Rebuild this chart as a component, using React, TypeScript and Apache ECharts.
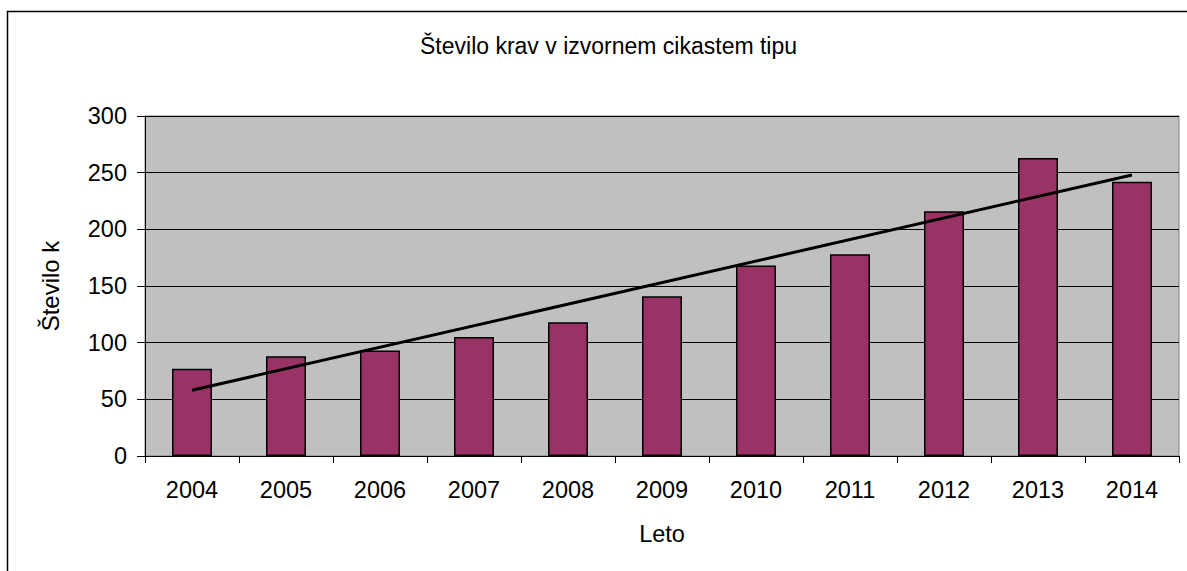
import React, { useEffect, useRef } from "react";
import * as echarts from "echarts";

const years = ["2004", "2005", "2006", "2007", "2008", "2009", "2010", "2011", "2012", "2013", "2014"];
const cows = [77, 88, 93, 105, 118, 141, 168, 178, 216, 263, 242];
// linear trend line endpoints (2004 and 2014)
const trendEnds = [58, 248];
const yTicks = [0, 50, 100, 150, 200, 250, 300];

const titleText = "Število krav v izvornem cikastem tipu";
const yName = "Število k";
const xName = "Leto";

export default function App() {
  const ref = useRef<HTMLDivElement>(null);
  useEffect(() => {
    if (!ref.current) return;
    const chart = echarts.init(ref.current, null, { renderer: "svg" });
    const trend = years.map((_, i) => (i === 0 ? trendEnds[0] : i === years.length - 1 ? trendEnds[1] : null));
    const font = "'Liberation Sans', Arial, sans-serif";
    chart.setOption({
      animation: false,
      backgroundColor: "#ffffff",
      title: {
        text: titleText,
        left: 415,
        top: 29,
        textStyle: { fontFamily: font, fontSize: 23, fontWeight: "normal", color: "#000" },
      },
      graphic: [
        {
          type: "rect",
          shape: { x: 7.5, y: 11.5, width: 1400, height: 800 },
          style: { fill: "none", stroke: "#000", lineWidth: 1.5 },
          silent: true,
        },
      ],
      grid: {
        left: 145,
        top: 116,
        right: 8,
        bottom: 115,
        show: true,
        backgroundColor: "#C0C0C0",
        borderColor: "#808080",
        borderWidth: 1,
      },
      xAxis: {
        type: "category",
        data: years,
        name: xName,
        nameLocation: "middle",
        nameGap: 66,
        nameTextStyle: { fontFamily: font, fontSize: 23.5, color: "#000" },
        axisLine: { lineStyle: { color: "#000", width: 1 } },
        axisTick: { show: true, length: 7, lineStyle: { color: "#000" } },
        axisLabel: { fontFamily: font, fontSize: 23.5, color: "#000", margin: 22 },
      },
      yAxis: {
        type: "value",
        min: yTicks[0],
        max: yTicks[yTicks.length - 1],
        interval: 50,
        name: yName,
        nameLocation: "middle",
        nameGap: 83,
        nameRotate: 90,
        nameTextStyle: { fontFamily: font, fontSize: 24, color: "#000" },
        axisLine: { show: true, lineStyle: { color: "#000", width: 1 } },
        axisTick: { show: true, length: 8, lineStyle: { color: "#000" } },
        axisLabel: { fontFamily: font, fontSize: 23.5, color: "#000", margin: 18 },
        splitLine: { show: true, lineStyle: { color: "#000", width: 1 } },
      },
      series: [
        {
          type: "bar",
          data: cows,
          barWidth: 40,
          itemStyle: { color: "#993366", borderColor: "#000", borderWidth: 1.5 },
        },
        {
          type: "line",
          data: trend,
          connectNulls: true,
          symbol: "none",
          lineStyle: { color: "#000", width: 3 },
          z: 5,
        },
      ],
    });
    return () => chart.dispose();
  }, []);
  return <div ref={ref} style={{ position: "fixed", left: 0, top: 0, width: 1187, height: 571 }} />;
}
